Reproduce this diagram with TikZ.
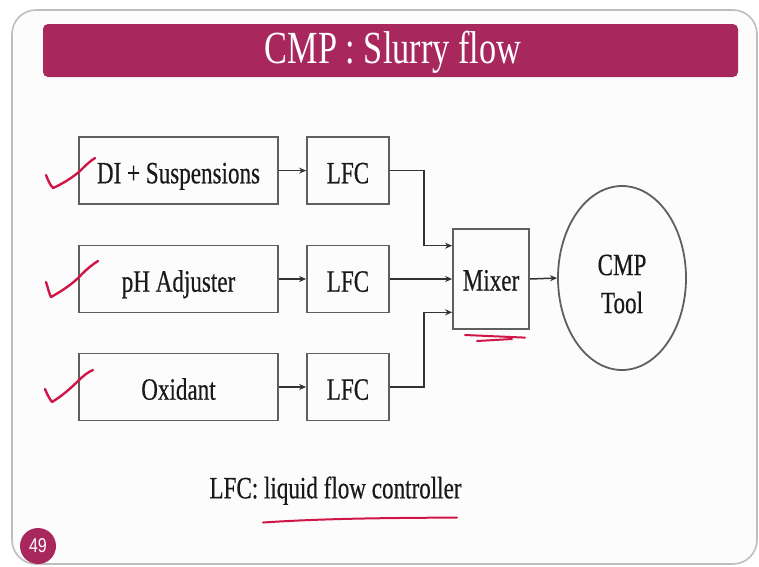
\documentclass[tikz,border=0pt]{standalone}
\usepackage{fontspec}
\usetikzlibrary{arrows.meta,calc,shapes.geometric}
\newfontfamily\tnr{Liberation Serif}[FakeStretch=0.745,FakeBold=0.4]
\newfontfamily\tnrt{Liberation Serif}[FakeStretch=0.745]
\newfontfamily\arl{Liberation Sans}[FakeStretch=0.8]
\definecolor{barcol}{RGB}{168,40,94}
\definecolor{framecol}{RGB}{190,190,192}
\definecolor{boxcol}{RGB}{95,95,95}
\definecolor{inkred}{RGB}{208,22,70}
\definecolor{bgcol}{RGB}{252,252,253}
\begin{document}
\begin{tikzpicture}[x=1pt,y=-1pt,
  txt/.style={font=\tnr\fontsize{31}{34}\selectfont, text=black!90},
  boxtxt/.style={txt, text height=25.4pt, text depth=0pt},
  srcbox/.style={boxtxt, draw=boxcol, line width=1.8pt, minimum width=199pt, minimum height=67pt, inner sep=0pt},
  lfcbox/.style={boxtxt, draw=boxcol, line width=1.8pt, minimum width=82pt, minimum height=67pt, inner sep=0pt},
  mixbox/.style={txt, text height=23pt, text depth=0pt, draw=boxcol, line width=1.8pt, minimum width=76pt, minimum height=100pt, inner sep=0pt},
  toolshape/.style={draw=boxcol, line width=1.8pt, ellipse, minimum width=128pt, minimum height=184pt, inner sep=0pt},
  arr/.style={draw=black!80, line width=1.5pt, -{Stealth[length=7pt,width=6pt]}},
  ink/.style={draw=inkred, line width=2.4pt, line cap=round, line join=round}]
\useasboundingbox (0,0) rectangle (759,566);
\fill[white] (0,0) rectangle (759,566);
% slide frame
\draw[framecol, line width=1.6pt, fill=bgcol, rounded corners=24pt] (12,10) rectangle (757,564);
% title bar
\fill[barcol, rounded corners=5pt] (43,24) rectangle (738,77);
\node[font=\tnrt\fontsize{46}{50}\selectfont, text=white, anchor=base] (title) at (393,63.3) {CMP : Slurry flow};
% source boxes
\node[srcbox] (src1) at (178.5,170.6) {DI + Suspensions};
\node[srcbox] (src2) at (178.5,279) {pH Adjuster};
\node[srcbox] (src3) at (178.5,387) {Oxidant};
% LFC boxes
\node[lfcbox] (lfc1) at (348,170.6) {LFC};
\node[lfcbox] (lfc2) at (348,279) {LFC};
\node[lfcbox] (lfc3) at (348,387) {LFC};
% mixer and tool
\node[mixbox] (mixer) at (491,279) {Mixer};
\node[toolshape] (tool) at (622,278) {};
\node[txt, align=center, inner sep=0pt] (tooltxt) at (622,284) {CMP\\[4pt]Tool};
% connectors
\draw[arr] (src1.east) -- (lfc1.west);
\draw[arr] (src2.east) -- (lfc2.west);
\draw[arr] (src3.east) -- (lfc3.west);
\coordinate (in1) at ($(mixer.west)+(0,-33.3)$);
\coordinate (in3) at ($(mixer.west)+(0,33.3)$);
\draw[arr] (lfc1.east) -- (424,170.6) |- (in1);
\draw[arr] (lfc2.east) -- (mixer.west);
\draw[arr] (lfc3.east) -- (424,387) |- (in3);
\draw[arr] (mixer.east) -- (tool.west);
% legend
\node[boxtxt] (legend) at (335.5,485.6) {LFC: liquid flow controller};
% page number
\node[circle, fill=barcol, minimum size=36pt, inner sep=0pt, text=white, font=\arl\fontsize{20}{22}\selectfont] (page) at (38,546) {49};
% red handwritten marks
\draw[ink] (46,175) .. controls (48,180) and (50,185) .. (53,188) .. controls (62,184) and (72,178) .. (80,171) .. controls (85,166) and (90,161) .. (95,158);
\draw[ink] (46,282) .. controls (48,288) and (49,293) .. (51,297) .. controls (62,291) and (74,283) .. (82,274) .. controls (87,269) and (93,264) .. (98,261);
\draw[ink] (45,389) .. controls (47,394) and (49,398) .. (52,402) .. controls (62,396) and (71,388) .. (78,381) .. controls (83,376) and (88,372) .. (93,370);
\draw[ink, line width=2pt] (465,335) -- (525,337.6);
\draw[ink, line width=2pt] (512,339) -- (477,341);
\draw[ink, line width=2pt] (263,522.5) .. controls (330,518) and (400,518) .. (457,517.5);
\end{tikzpicture}
\end{document}
